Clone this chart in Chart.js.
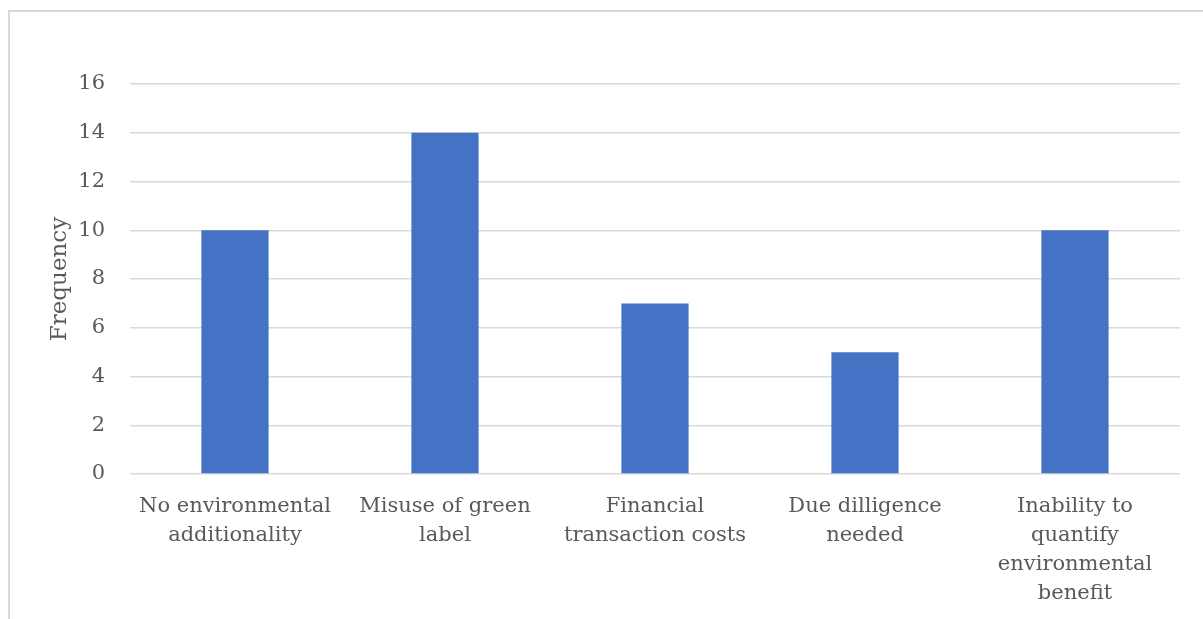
<!DOCTYPE html>
<html>
<head>
<meta charset="utf-8">
<script src="https://cdn.jsdelivr.net/npm/chart.js@4"></script>
<style>
  html, body { margin: 0; padding: 0; background: #fff; overflow: hidden; }
  #frame {
    position: absolute; left: 8px; top: 10px; width: 1400px; height: 800px;
    border-left: 2px solid #d9d9d9; border-top: 2px solid #d9d9d9;
  }
  #wrap { position: absolute; left: 0; top: 0; width: 1203px; height: 619px; }
</style>
</head>
<body>
<div id="frame"></div>
<div id="wrap"><canvas id="barrierChart"></canvas></div>
<script>
const categories = [
  ["No environmental", "additionality"],
  ["Misuse of green", "label"],
  ["Financial", "transaction costs"],
  ["Due dilligence", "needed"],
  ["Inability to", "quantify", "environmental", "benefit"]
];
const frequencies = [10, 14, 7, 5, 10];
const yTicks = { min: 0, max: 16, step: 2 };

const textColor = '#595959';
const gridColor = '#d9d9d9';
const fontFamily = '"DejaVu Serif", "Liberation Serif", serif';

const ctx = document.getElementById('barrierChart');
new Chart(ctx, {
  type: 'bar',
  data: {
    labels: categories,
    datasets: [{
      label: 'Frequency',
      data: frequencies,
      backgroundColor: '#4472C4',
      barPercentage: 0.32,
      categoryPercentage: 1
    }]
  },
  options: {
    responsive: true,
    maintainAspectRatio: false,
    animation: false,
    layout: { padding: { top: 84, right: 23, left: 0, bottom: 0 } },
    plugins: {
      legend: { display: false },
      tooltip: { enabled: false }
    },
    scales: {
      x: {
        afterFit(scale) { scale.height = 145; },
        grid: { display: false, drawTicks: false },
        border: { display: false },
        ticks: {
          color: textColor,
          font: { family: fontFamily, size: 21, lineHeight: 1.38 },
          padding: 18,
          maxRotation: 0,
          autoSkip: false
        }
      },
      y: {
        min: yTicks.min,
        max: yTicks.max,
        afterFit(scale) { scale.width = 130; },
        grid: { color: gridColor, lineWidth: 1.5, drawTicks: false },
        border: { display: false },
        ticks: {
          stepSize: yTicks.step,
          color: textColor,
          font: { family: fontFamily, size: 21 },
          padding: 25
        },
        title: {
          display: true,
          text: 'Frequency',
          color: textColor,
          font: { family: fontFamily, size: 23 },
          padding: { top: 46, bottom: 0 }
        }
      }
    }
  }
});
</script>
</body>
</html>
